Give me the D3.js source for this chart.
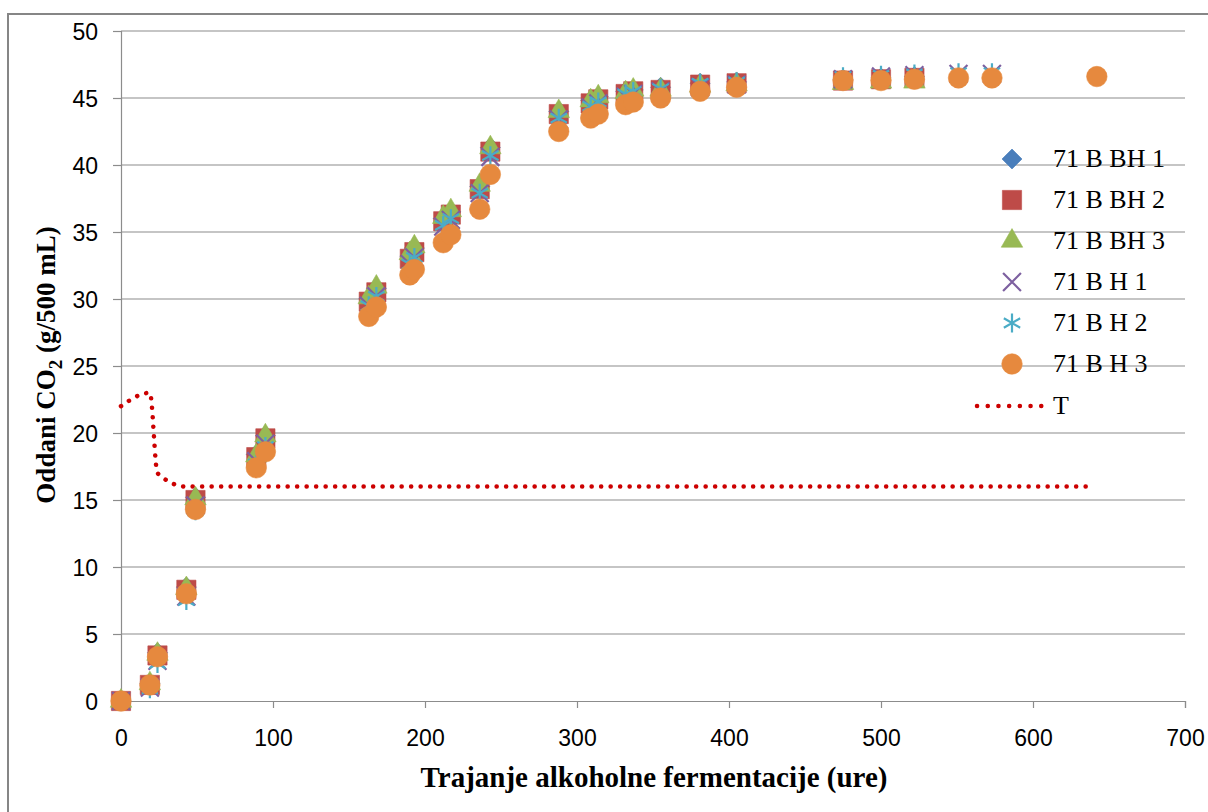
<!DOCTYPE html>
<html>
<head>
<meta charset="utf-8">
<script src="https://cdn.jsdelivr.net/npm/d3@7"></script>
<style>
  body { margin: 0; background: #fff; }
  svg { display: block; }
</style>
</head>
<body>
<div id="chart"></div>
<script>
// measurement times (hours)
const timesBH = [0, 19, 24, 43, 49, 89, 95, 163, 168, 190, 193, 212, 217, 236, 243, 288, 309, 314, 332, 337, 355, 381, 405, 475, 500, 522];
const timesH12 = timesBH.concat([551, 573]);
const timesH3 = timesBH.concat([551, 573, 642]);

// released CO2 (g/500 mL)
const bh1 = [0, 1.3, 3.6, 8.5, 15.2, 18.4, 19.8, 30.0, 30.8, 33.2, 33.8, 36.0, 36.5, 38.4, 41.3, 44.0, 44.8, 45.1, 45.5, 45.6, 45.8, 46.1, 46.2, 46.4, 46.5, 46.6];
const bh2 = [0, 1.2, 3.4, 8.3, 15.0, 18.2, 19.6, 29.8, 30.5, 33.0, 33.5, 35.8, 36.3, 38.2, 41.0, 43.8, 44.6, 44.9, 45.3, 45.5, 45.6, 46.0, 46.1, 46.3, 46.4, 46.5];
const bh3 = [0, 1.3, 3.5, 8.4, 15.1, 18.3, 19.8, 30.1, 30.9, 33.4, 33.9, 36.1, 36.6, 38.5, 41.3, 44.0, 44.8, 45.1, 45.4, 45.6, 45.6, 45.9, 46.0, 46.1, 46.2, 46.2];
const h1 = [0, 1.0, 3.0, 7.8, 14.6, 17.9, 19.2, 29.5, 30.2, 32.6, 33.1, 35.4, 35.9, 37.9, 40.6, 43.4, 44.3, 44.6, 45.1, 45.3, 45.5, 45.8, 46.0, 46.4, 46.6, 46.7, 46.8, 46.8];
const h2 = [0, 0.9, 2.8, 7.5, 14.2, 17.7, 19.0, 29.5, 30.2, 32.6, 33.1, 35.5, 36.0, 37.9, 40.7, 43.5, 44.4, 44.7, 45.3, 45.5, 45.7, 46.1, 46.2, 46.6, 46.7, 46.8, 46.9, 46.9];
const h3 = [0, 1.2, 3.3, 8.0, 14.3, 17.4, 18.6, 28.7, 29.4, 31.8, 32.2, 34.2, 34.8, 36.7, 39.3, 42.5, 43.5, 43.8, 44.5, 44.7, 45.0, 45.5, 45.8, 46.3, 46.3, 46.4, 46.5, 46.5, 46.6];

// temperature curve T
const timesT = [0, 19, 24, 43, 49, 89, 95, 163, 200, 300, 400, 500, 640];
const tempT = [22, 23, 17, 16, 16, 16, 16, 16, 16, 16, 16, 16, 16];

const seriesNames = ["71 B BH 1", "71 B BH 2", "71 B BH 3", "71 B H 1", "71 B H 2", "71 B H 3"];
const xTicks = [0, 100, 200, 300, 400, 500, 600, 700];
const yTicks = [0, 5, 10, 15, 20, 25, 30, 35, 40, 45, 50];

const W = 1208, H = 812;
const serif = "'Liberation Serif', 'Times New Roman', serif";
const svg = d3.select("#chart").append("svg")
  .attr("width", W)
  .attr("height", H);

// outer chart frame
svg.append("rect")
  .attr("x", 8).attr("y", 14)
  .attr("width", 1230).attr("height", 820)
  .attr("fill", "none")
  .attr("stroke", "#868686")
  .attr("stroke-width", 2);

const x = d3.scaleLinear().domain([0, 700]).range([121, 1185]);
const y = d3.scaleLinear().domain([0, 50]).range([701, 31]);

// horizontal grid
svg.append("g")
  .selectAll("line")
  .data(yTicks.filter(d => d > 0))
  .enter().append("line")
  .attr("x1", x(0)).attr("x2", x(700))
  .attr("y1", d => y(d)).attr("y2", d => y(d))
  .attr("stroke", "#8c8c8c")
  .attr("stroke-width", 1.2);

// axes
const yAxis = svg.append("g")
  .attr("transform", `translate(${x(0)},0)`)
  .call(d3.axisLeft(y).tickValues(yTicks).tickSize(8).tickPadding(15));
const xAxis = svg.append("g")
  .attr("transform", `translate(0,${y(0)})`)
  .call(d3.axisBottom(x).tickValues(xTicks).tickSize(7).tickPadding(22));

[xAxis, yAxis].forEach(g => {
  g.select(".domain").attr("stroke", "#8c8c8c").attr("stroke-width", 1.2);
  g.selectAll(".tick line").attr("stroke", "#8c8c8c").attr("stroke-width", 1.2);
  g.selectAll(".tick text")
    .attr("fill", "#000")
    .style("font-family", "'Liberation Sans', Arial, sans-serif")
    .style("font-size", "23px");
});
yAxis.selectAll(".tick text").attr("dy", "0.35em");

// axis titles
svg.append("text")
  .attr("x", 654).attr("y", 787)
  .attr("text-anchor", "middle")
  .style("font-family", serif)
  .style("font-weight", "bold")
  .style("font-size", "29px")
  .text("Trajanje alkoholne fermentacije (ure)");

const yt = svg.append("text")
  .attr("transform", "translate(55,365) rotate(-90)")
  .attr("text-anchor", "middle")
  .style("font-family", serif)
  .style("font-weight", "bold")
  .style("font-size", "27px");
yt.append("tspan").text("Oddani CO");
yt.append("tspan").attr("dy", 7).style("font-size", "19px").text("2");
yt.append("tspan").attr("dy", -7).text(" (g/500 mL)");

// T line
const tLine = d3.line()
  .x(d => x(d[0]))
  .y(d => y(d[1]))
  .curve(d3.curveMonotoneX);
svg.append("path")
  .datum(timesT.map((t, i) => [t, tempT[i]]))
  .attr("d", tLine)
  .attr("fill", "none")
  .attr("stroke", "#cc0000")
  .attr("stroke-width", 4.5)
  .attr("stroke-linecap", "round")
  .attr("stroke-dasharray", "0.1 9.4");

// series
const series = [
  { name: seriesNames[0], t: timesBH, v: bh1, sym: d3.symbolSquare, rot: 45, size: 200, color: "#4a7ebb", fill: true },
  { name: seriesNames[1], t: timesBH, v: bh2, sym: d3.symbolSquare, rot: 0, size: 370, color: "#be4b48", fill: true },
  { name: seriesNames[2], t: timesBH, v: bh3, sym: d3.symbolTriangle, rot: 0, size: 200, color: "#98b954", fill: true },
  { name: seriesNames[3], t: timesH12, v: h1, sym: d3.symbolX, rot: 0, size: 210, color: "#7d60a0", fill: false },
  { name: seriesNames[4], t: timesH12, v: h2, sym: d3.symbolAsterisk, rot: 0, size: 250, color: "#4bacc6", fill: false },
  { name: seriesNames[5], t: timesH3, v: h3, sym: d3.symbolCircle, rot: 0, size: 330, color: "#e6893e", fill: true }
];

function drawSymbol(sel, s) {
  sel.attr("d", d3.symbol().type(s.sym).size(s.size))
    .attr("fill", s.fill ? s.color : "none")
    .attr("stroke", s.color)
    .attr("stroke-width", s.fill ? 0.6 : 2.2);
}

series.forEach(s => {
  svg.append("g")
    .selectAll("path")
    .data(s.t.map((t, i) => [t, s.v[i]]))
    .enter().append("path")
    .attr("transform", d => `translate(${x(d[0])},${y(d[1])}) rotate(${s.rot})`)
    .call(drawSymbol, s);
});

// legend
const legend = svg.append("g");
const rowY = [159, 200, 241, 282, 323, 364, 406];
series.forEach((s, i) => {
  legend.append("path")
    .attr("transform", `translate(1012,${rowY[i]}) rotate(${s.rot})`)
    .call(drawSymbol, s);
  legend.append("text")
    .attr("x", 1053).attr("y", rowY[i] + 8)
    .style("font-family", serif)
    .style("font-size", "26px")
    .text(s.name);
});
legend.append("line")
  .attr("x1", 977).attr("x2", 1042)
  .attr("y1", rowY[6]).attr("y2", rowY[6])
  .attr("stroke", "#cc0000")
  .attr("stroke-width", 4.5)
  .attr("stroke-linecap", "round")
  .attr("stroke-dasharray", "0.1 10.6");
legend.append("text")
  .attr("x", 1053).attr("y", rowY[6] + 8)
  .style("font-family", serif)
  .style("font-size", "26px")
  .text("T");
</script>
</body>
</html>
